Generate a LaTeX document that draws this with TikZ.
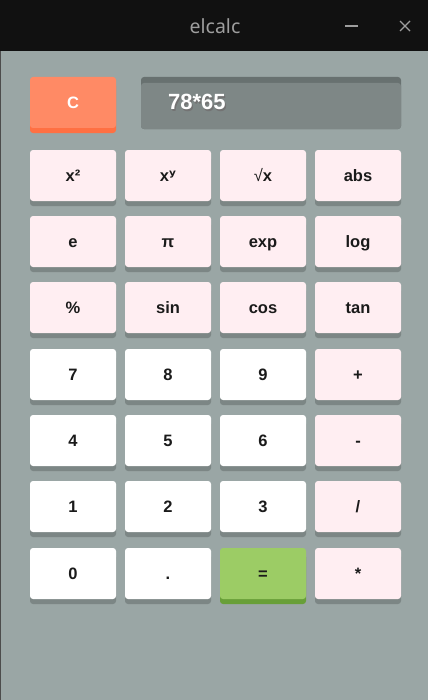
\documentclass[tikz,border=0pt]{standalone}
\usepackage{fontspec}
\setmainfont{Liberation Sans}
\newfontfamily\titlefont{Noto Sans}
\newfontfamily\djv{DejaVu Sans}
\definecolor{bodybg}{HTML}{9AA6A5}
\definecolor{titlebg}{HTML}{111111}
\definecolor{titlefg}{HTML}{9E9E9E}
\definecolor{pinkbtn}{HTML}{FFEEF2}
\definecolor{btnshadow}{HTML}{7C8685}
\definecolor{greenbtn}{HTML}{9CCC65}
\definecolor{greenshadow}{HTML}{689F38}
\definecolor{orangebtn}{HTML}{FF8A65}
\definecolor{orangeshadow}{HTML}{FF7043}
\definecolor{dispface}{HTML}{7E8786}
\definecolor{disptop}{HTML}{687170}
\definecolor{btntext}{HTML}{1A1A1A}
\tikzset{
  btnlabel/.style={font=\bfseries\fontsize{16.5bp}{18bp}\selectfont, text=btntext, inner sep=0pt, anchor=base},
}
% \calcbtn{name}{x}{y}{face}{shadow}{label}
\newcommand{\calcbtn}[6]{%
  \fill[#5, rounded corners=3bp] (#2,#3+6) rectangle (#2+86,#3+56);
  \fill[#4, rounded corners=3bp] (#2,#3) rectangle (#2+86,#3+51);
  \node[btnlabel] (#1) at (#2+43,#3+31) {#6};
}
\begin{document}
\begin{tikzpicture}[x=1bp,y=-1bp]
\useasboundingbox (0,0) rectangle (428,700);
% window body
\fill[bodybg] (0,0) rectangle (428,700);
\draw[black!70, line width=1bp] (0.5,51) -- (0.5,700);
% title bar
\fill[titlebg] (0,0) rectangle (428,51);
\node[font=\titlefont\fontsize{19.5bp}{21bp}\selectfont, text=titlefg, inner sep=0pt, anchor=base] (title) at (215,34) {elcalc};
\coordinate (minA) at (345,26);
\coordinate (minB) at (358,26);
\draw[titlefg, line width=1.2bp] (minA) -- (minB);
\coordinate (xA) at (400,21);
\coordinate (xB) at (410,31);
\coordinate (xC) at (400,31);
\coordinate (xD) at (410,21);
\draw[titlefg, line width=1.2bp] (xA) -- (xB) (xC) -- (xD);
% C button
\fill[orangeshadow, rounded corners=3bp] (30,83) rectangle (116,133);
\fill[orangebtn, rounded corners=3bp] (30,77) rectangle (116,128);
\node[font=\bfseries\fontsize{16.5bp}{18bp}\selectfont, text=white, inner sep=0pt, anchor=base] (clear) at (73,109) {C};
% display
\fill[disptop, rounded corners=3bp] (141,77) rectangle (401,129);
\fill[dispface, rounded corners=3bp] (141,83) rectangle (401,129);
\node[font=\bfseries\fontsize{22bp}{24bp}\selectfont, text=black!55, inner sep=0pt, anchor=base west] (dispshadow) at (169.2,111.2) {78*65};
\node[font=\bfseries\fontsize{22bp}{24bp}\selectfont, text=white, inner sep=0pt, anchor=base west] (display) at (168,110) {78*65};
% rows
\calcbtn{bsq}{30}{150}{pinkbtn}{btnshadow}{x²}
\calcbtn{bpow}{125}{150}{pinkbtn}{btnshadow}{x{\djv\bfseries ʸ}}
\calcbtn{bsqrt}{220}{150}{pinkbtn}{btnshadow}{{\mdseries√}x}
\calcbtn{babs}{315}{150}{pinkbtn}{btnshadow}{abs}
\calcbtn{be}{30}{216}{pinkbtn}{btnshadow}{e}
\calcbtn{bpi}{125}{216}{pinkbtn}{btnshadow}{π}
\calcbtn{bexp}{220}{216}{pinkbtn}{btnshadow}{exp}
\calcbtn{blog}{315}{216}{pinkbtn}{btnshadow}{log}
\calcbtn{bpct}{30}{282}{pinkbtn}{btnshadow}{\%}
\calcbtn{bsin}{125}{282}{pinkbtn}{btnshadow}{sin}
\calcbtn{bcos}{220}{282}{pinkbtn}{btnshadow}{cos}
\calcbtn{btan}{315}{282}{pinkbtn}{btnshadow}{tan}
\calcbtn{b7}{30}{349}{white}{btnshadow}{7}
\calcbtn{b8}{125}{349}{white}{btnshadow}{8}
\calcbtn{b9}{220}{349}{white}{btnshadow}{9}
\calcbtn{bplus}{315}{349}{pinkbtn}{btnshadow}{+}
\calcbtn{b4}{30}{415}{white}{btnshadow}{4}
\calcbtn{b5}{125}{415}{white}{btnshadow}{5}
\calcbtn{b6}{220}{415}{white}{btnshadow}{6}
\calcbtn{bminus}{315}{415}{pinkbtn}{btnshadow}{-}
\calcbtn{b1}{30}{481}{white}{btnshadow}{1}
\calcbtn{b2}{125}{481}{white}{btnshadow}{2}
\calcbtn{b3}{220}{481}{white}{btnshadow}{3}
\calcbtn{bdiv}{315}{481}{pinkbtn}{btnshadow}{/}
\calcbtn{b0}{30}{548}{white}{btnshadow}{0}
\calcbtn{bdot}{125}{548}{white}{btnshadow}{.}
\calcbtn{beq}{220}{548}{greenbtn}{greenshadow}{=}
\calcbtn{bmul}{315}{548}{pinkbtn}{btnshadow}{*}
\end{tikzpicture}
\end{document}
